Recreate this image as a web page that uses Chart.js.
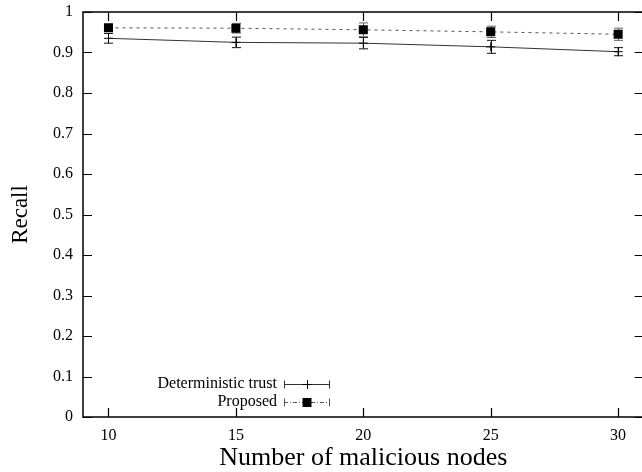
<!DOCTYPE html>
<html>
<head>
<meta charset="utf-8">
<script src="https://cdn.jsdelivr.net/npm/chart.js@4/dist/chart.umd.min.js"></script>
<style>
  html, body { margin: 0; padding: 0; background: #fff; overflow: hidden; }
</style>
</head>
<body>
<canvas id="recallChart" width="650" height="472" style="width:650px;height:472px;display:block"></canvas>
<script>
// data ==========================================
const nodes = [10, 15, 20, 25, 30];
const detRecall = [0.935, 0.925, 0.923, 0.914, 0.902];
const detErr = [0.012, 0.013, 0.014, 0.016, 0.010];
const propRecall = [0.961, 0.960, 0.956, 0.951, 0.945];
const propErr = [0.008, 0.012, 0.017, 0.014, 0.015];
const xTicks = [10, 15, 20, 25, 30];
const yTicks = [0, 0.1, 0.2, 0.3, 0.4, 0.5, 0.6, 0.7, 0.8, 0.9, 1];
const seriesNames = ["Deterministic trust", "Proposed"];

const serif = "'Liberation Serif', 'DejaVu Serif', serif";
Chart.defaults.font.family = serif;
Chart.defaults.color = "#000";

function points(ys) {
  return nodes.map((x, i) => ({ x: x, y: ys[i] }));
}

// error bars + frame with inward ticks + legend
const gnuplotLook = {
  id: "gnuplotLook",
  beforeDatasetsDraw(chart) {
    const ctx = chart.ctx;
    const xs = chart.scales.x, ys = chart.scales.y;
    const errs = [detErr, propErr];
    ctx.save();
    chart.data.datasets.forEach((ds, d) => {
      ctx.strokeStyle = d === 0 ? "#111" : "#666";
      ctx.lineWidth = 1;
      ds.data.forEach((p, i) => {
        const px = Math.round(xs.getPixelForValue(p.x)) + 0.5;
        const top = ys.getPixelForValue(p.y + errs[d][i]);
        const bot = ys.getPixelForValue(p.y - errs[d][i]);
        ctx.beginPath();
        ctx.moveTo(px, top);
        ctx.lineTo(px, bot);
        ctx.moveTo(px - 4.5, top);
        ctx.lineTo(px + 4.5, top);
        ctx.moveTo(px - 4.5, bot);
        ctx.lineTo(px + 4.5, bot);
        ctx.stroke();
      });
    });
    ctx.restore();
  },
  afterDraw(chart) {
    const ctx = chart.ctx;
    const a = chart.chartArea;
    const xs = chart.scales.x, ys = chart.scales.y;
    ctx.save();
    ctx.strokeStyle = "#000";
    ctx.lineWidth = 1.5;
    ctx.strokeRect(a.left, a.top, a.right - a.left, a.bottom - a.top);
    ctx.lineWidth = 1.2;
    ctx.beginPath();
    xTicks.forEach(v => {
      const px = Math.round(xs.getPixelForValue(v)) + 0.5;
      ctx.moveTo(px, a.bottom);
      ctx.lineTo(px, a.bottom - 9);
      ctx.moveTo(px, a.top);
      ctx.lineTo(px, a.top + 9);
    });
    yTicks.forEach(v => {
      const py = Math.round(ys.getPixelForValue(v)) + 0.5;
      ctx.moveTo(a.left, py);
      ctx.lineTo(a.left + 9, py);
      ctx.moveTo(a.right, py);
      ctx.lineTo(a.right - 9, py);
    });
    ctx.stroke();

    // legend bottom-left
    ctx.font = "16px " + serif;
    ctx.fillStyle = "#000";
    ctx.textAlign = "right";
    ctx.textBaseline = "middle";
    const lx0 = 284, lx1 = 330, lmid = 307;
    const rows = [384, 402];
    chart.data.datasets.forEach((ds, d) => {
      const y = rows[d] + 0.5;
      ctx.fillText(ds.label, 277, rows[d]);
      ctx.strokeStyle = ds.borderColor;
      ctx.lineWidth = 1;
      ctx.setLineDash(d === 0 ? [] : [4, 2, 1, 2]);
      ctx.beginPath();
      ctx.moveTo(lx0, y);
      ctx.lineTo(lx1, y);
      ctx.stroke();
      ctx.setLineDash([]);
      ctx.beginPath();
      ctx.moveTo(lx0 + 0.5, y - 4);
      ctx.lineTo(lx0 + 0.5, y + 4);
      ctx.moveTo(lx1 - 0.5, y - 4);
      ctx.lineTo(lx1 - 0.5, y + 4);
      ctx.stroke();
      if (d === 0) {
        ctx.strokeStyle = "#000";
        ctx.beginPath();
        ctx.moveTo(lmid + 0.5, y - 4.5);
        ctx.lineTo(lmid + 0.5, y + 4.5);
        ctx.moveTo(lmid - 4.5, y);
        ctx.lineTo(lmid + 4.5, y);
        ctx.stroke();
      } else {
        ctx.fillStyle = "#000";
        ctx.fillRect(lmid - 4.5, y - 4.5, 9, 9);
      }
    });
    ctx.restore();
  }
};

new Chart(document.getElementById("recallChart").getContext("2d"), {
  type: "line",
  data: {
    datasets: [
      {
        label: seriesNames[0],
        data: points(detRecall),
        borderColor: "#333",
        borderWidth: 1,
        pointStyle: "cross",
        pointRadius: 4.5,
        pointBorderColor: "#000",
        pointBorderWidth: 1,
        fill: false,
        tension: 0
      },
      {
        label: seriesNames[1],
        data: points(propRecall),
        borderColor: "#555",
        borderWidth: 1,
        borderDash: [3, 4],
        pointStyle: "rect",
        pointRadius: 6.4,
        pointBackgroundColor: "#000",
        pointBorderColor: "#000",
        pointBorderWidth: 0,
        fill: false,
        tension: 0
      }
    ]
  },
  options: {
    responsive: false,
    animation: false,
    layout: { padding: { left: 0, top: 12, right: 6, bottom: 0 } },
    plugins: { legend: { display: false }, tooltip: { enabled: false } },
    scales: {
      x: {
        type: "linear",
        min: 9,
        max: 31,
        afterBuildTicks: s => { s.ticks = xTicks.map(v => ({ value: v })); },
        afterFit: s => { s.height = 55; s.paddingLeft = 0; s.paddingRight = 0; },
        grid: { display: false, drawTicks: false },
        border: { display: false },
        ticks: {
          color: "#000",
          font: { family: serif, size: 16 },
          padding: 9,
          maxRotation: 0,
          autoSkip: false,
          callback: v => String(v)
        },
        title: {
          display: true,
          text: "Number of malicious nodes",
          color: "#000",
          font: { family: serif, size: 26 },
          padding: { top: 0, bottom: -2 }
        }
      },
      y: {
        min: 0,
        max: 1,
        afterBuildTicks: s => { s.ticks = yTicks.map(v => ({ value: v })); },
        afterFit: s => { s.width = 83; s.paddingTop = 0; s.paddingBottom = 0; },
        grid: { display: false, drawTicks: false },
        border: { display: false },
        ticks: {
          color: "#000",
          font: { family: serif, size: 16 },
          padding: 10,
          autoSkip: false,
          callback: v => (v === 0 || v === 1 ? String(v) : v.toFixed(1))
        },
        title: {
          display: true,
          text: "Recall",
          color: "#000",
          font: { family: serif, size: 23 },
          padding: { top: 7, bottom: 0 }
        }
      }
    }
  },
  plugins: [gnuplotLook]
});
</script>
</body>
</html>
